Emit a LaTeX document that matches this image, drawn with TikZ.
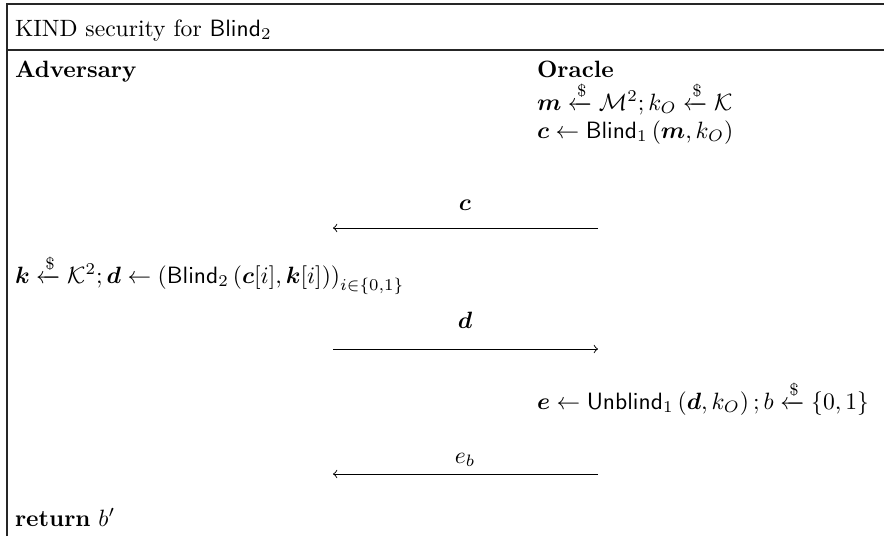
\documentclass[tikz,border=0pt]{standalone}
\usepackage{amsmath,amssymb}
\usetikzlibrary{arrows}
\begin{document}
\begin{tikzpicture}[x=0.4237pt,y=-0.4237pt,
  txt/.style={anchor=base west,inner sep=0pt,outer sep=0pt},
  lbl/.style={anchor=base,inner sep=0pt,outer sep=0pt},
  frameline/.style={line width=0.5pt,draw=black!85},
  msg/.style={line width=0.4pt}]
\useasboundingbox (0,0) rectangle (884,536);
% frame
\draw[frameline] (7,536) -- (7,4) -- (884,4);
\draw[frameline] (7,50) -- (884,50);
% texts
\node[txt] (title) at (15,36) {KIND security for $\mathsf{Blind}_2$};
\node[txt] (adv) at (15,77) {\textbf{Adversary}};
\node[txt] (orc) at (537,77) {\textbf{Oracle}};
\node[txt] (o1) at (537,110) {$\boldsymbol{m} \xleftarrow{\$} \mathcal{M}^2; k_O \xleftarrow{\$} \mathcal{K}$};
\node[txt] (o2) at (537,138) {$\boldsymbol{c} \leftarrow \mathsf{Blind}_1\left(\boldsymbol{m}, k_O\right)$};
\node[lbl] (l1) at (465,210) {$\boldsymbol{c}$};
\coordinate (a1s) at (598,228);
\coordinate (a1e) at (333,228);
\draw[msg,-to] (a1s) -- (a1e);
\node[txt] (a1) at (15,283) {$\boldsymbol{k} \xleftarrow{\$} \mathcal{K}^2; \boldsymbol{d} \leftarrow \left(\mathsf{Blind}_2\left(\boldsymbol{c}[i], \boldsymbol{k}[i]\right)\right)_{i\in\{0,1\}}$};
\node[lbl] (l2) at (465,328) {$\boldsymbol{d}$};
\coordinate (a2s) at (333,349);
\coordinate (a2e) at (598,349);
\draw[msg,-to] (a2s) -- (a2e);
\node[txt] (o3) at (537,409) {$\boldsymbol{e} \leftarrow \mathsf{Unblind}_1\left(\boldsymbol{d}, k_O\right); b \xleftarrow{\$} \{0,1\}$};
\node[lbl] (l3) at (465,463) {$e_b$};
\coordinate (a3s) at (598,474);
\coordinate (a3e) at (333,474);
\draw[msg,-to] (a3s) -- (a3e);
\node[txt] (ret) at (15,526) {\textbf{return} $b'$};
\end{tikzpicture}
\end{document}
